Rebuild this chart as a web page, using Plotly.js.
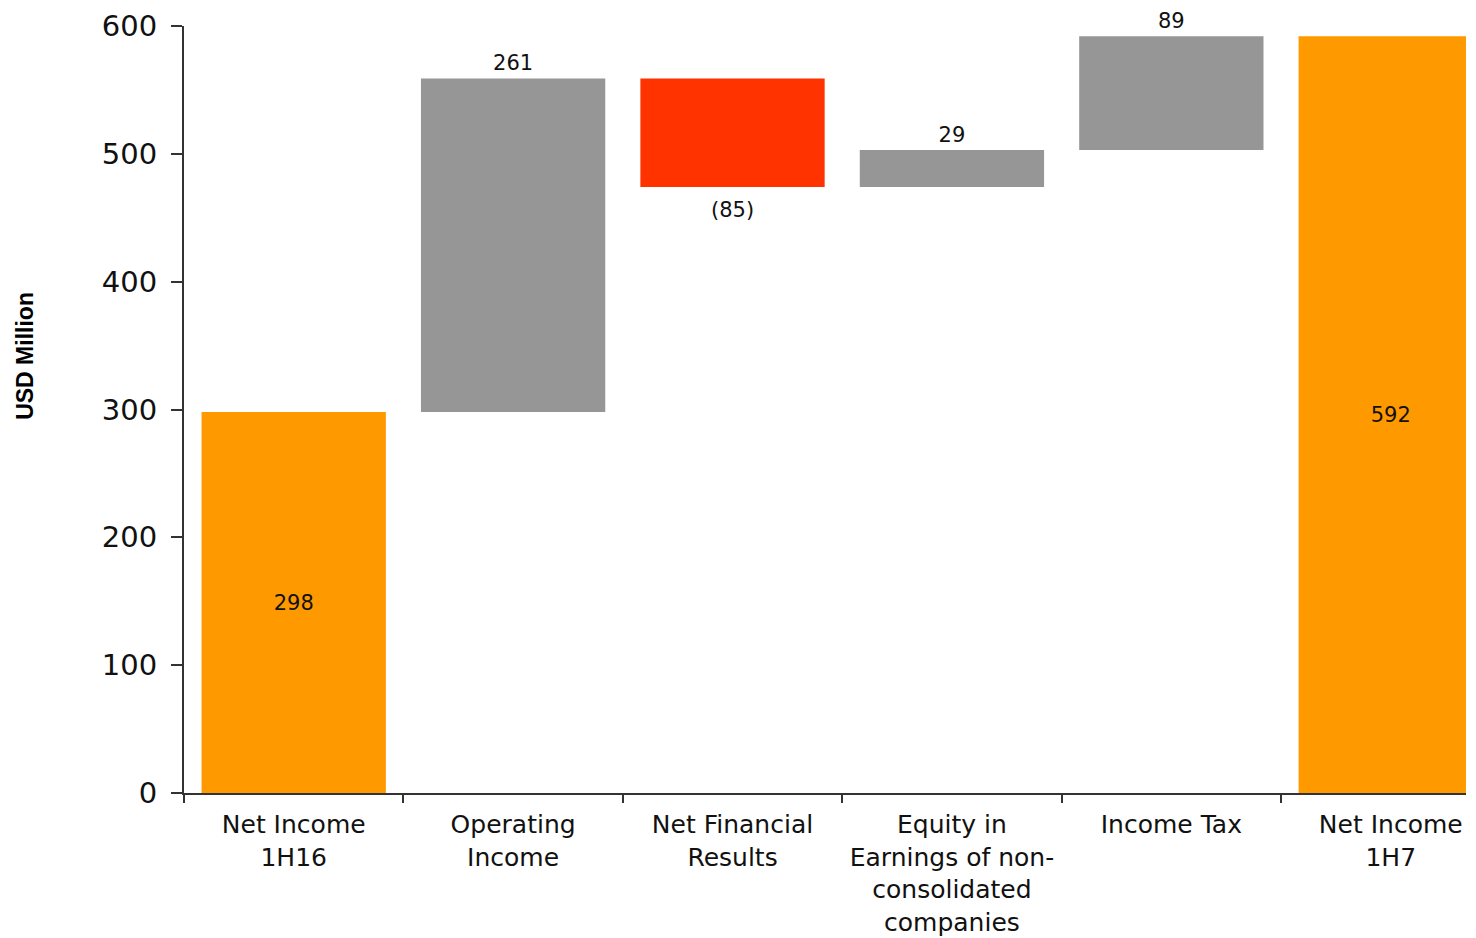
<!DOCTYPE html>
<html>
<head>
<meta charset="utf-8">
<script src="https://cdn.plot.ly/plotly-3.0.1.min.js"></script>
<style>
html,body{margin:0;padding:0;background:#fff;overflow:hidden;}
#chart{width:1466px;height:938px;}
</style>
</head>
<body>
<div id="chart"></div>
<script>
// Data
const categories = [
  "Net Income<br>1H16",
  "Operating<br>Income",
  "Net Financial<br>Results",
  "Equity in<br>Earnings of non-<br>consolidated<br>companies",
  "Income Tax",
  "Net Income<br>1H7"
];
const values = [298, 261, -85, 29, 89, 592];
const measures = ["absolute", "relative", "relative", "relative", "relative", "total"];
const labels = ["298", "261", "(85)", "29", "89", "592"];
const labelPositions = ["inside", "outside", "outside", "outside", "outside", "inside"];
const yTicks = [0, 100, 200, 300, 400, 500, 600];

const FONT = "DejaVu Sans, Verdana, sans-serif";

// Running totals (end level of each bar) derived from the data
const levels = [];
let run = 0;
values.forEach((v, i) => {
  run = measures[i] === "relative" ? run + v : v;
  levels.push(run);
});

// Negative step labels are drawn as annotations (extra gap below bar)
const traceText = labels.map((t, i) => (measures[i] === "relative" && values[i] < 0) ? "" : t);
const negAnnotations = [];
values.forEach((v, i) => {
  if (measures[i] === "relative" && v < 0) {
    negAnnotations.push({
      x: categories[i], y: levels[i], xref: "x", yref: "y",
      text: labels[i], showarrow: false, yanchor: "top", yshift: -9,
      font: {family: FONT, size: 21, color: "#111"}
    });
  }
});

const trace = {
  type: "waterfall",
  x: categories,
  y: values,
  measure: measures,
  text: traceText,
  textinfo: "text",
  textposition: labelPositions,
  insidetextanchor: "middle",
  textfont: {family: FONT, size: 21, color: "#111"},
  insidetextfont: {family: FONT, size: 21, color: "#111"},
  outsidetextfont: {family: FONT, size: 21, color: "#111"},
  constraintext: "none",
  increasing: {marker: {color: "#969696", line: {width: 0}}},
  decreasing: {marker: {color: "#FF3300", line: {width: 0}}},
  totals: {marker: {color: "#FF9900", line: {width: 0}}},
  connector: {visible: false},
  width: 0.84,
  cliponaxis: false,
  hoverinfo: "skip"
};

const layout = {
  width: 1466,
  height: 938,
  margin: {l: 184, r: 0, t: 26, b: 145},
  paper_bgcolor: "#fff",
  plot_bgcolor: "#fff",
  showlegend: false,
  font: {family: FONT, color: "#111"},
  xaxis: {
    type: "category",
    range: [-0.5, 5.343],
    showgrid: false,
    zeroline: false,
    showline: true,
    linecolor: "#333",
    linewidth: 2,
    ticks: "outside",
    tickson: "boundaries",
    ticklen: 8,
    tickwidth: 2,
    tickcolor: "#333",
    tickangle: 0,
    ticklabelstandoff: 8,
    tickfont: {family: FONT, size: 25, color: "#111"},
    fixedrange: true
  },
  yaxis: {
    range: [0, 600],
    tickvals: yTicks,
    ticktext: yTicks.map(String),
    showgrid: false,
    zeroline: false,
    showline: true,
    linecolor: "#333",
    linewidth: 2,
    ticks: "outside",
    ticklen: 11,
    tickwidth: 2,
    tickcolor: "#333",
    ticklabelstandoff: 8,
    tickfont: {family: FONT, size: 29, color: "#111"},
    fixedrange: true
  },
  annotations: negAnnotations.concat([{
    text: "USD Million",
    xref: "paper", yref: "paper",
    x: -0.124, y: 0.57,
    xanchor: "center", yanchor: "middle",
    textangle: -90,
    showarrow: false,
    font: {family: "Liberation Sans, Arial, sans-serif", size: 23, color: "#000", weight: "bold"}
  }])
};

Plotly.newPlot("chart", [trace], layout, {displayModeBar: false, staticPlot: true});
</script>
</body>
</html>
